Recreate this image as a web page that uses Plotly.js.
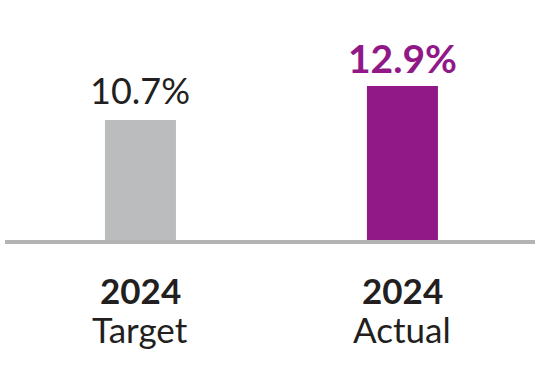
<!DOCTYPE html>
<html>
<head>
<meta charset="utf-8">
<script src="https://cdn.plot.ly/plotly-3.0.1.min.js"></script>
<style>html,body{margin:0;padding:0;background:#fff;}#chart{width:540px;height:370px;}</style>
</head>
<body>
<div id="chart"></div>
<script>
const categories = ["Target", "Actual"];
const years = ["2024", "2024"];
const values = [10.7, 12.9];
const valueLabels = ["10.7%", "12.9%"];
const barColors = ["#bbbcbe", "#911887"];
const labelColors = ["#231f20", "#911887"];
const labelBold = [false, true];

const FONT = "Lato, 'Open Sans', sans-serif";

const trace = {
  type: "bar",
  x: categories,
  y: values,
  width: 0.271,
  marker: { color: barColors, line: { width: 0 } },
  hoverinfo: "none"
};

const annotations = [];
categories.forEach((c, i) => {
  annotations.push({
    x: c, y: values[i], xref: "x", yref: "y",
    text: labelBold[i] ? "<b>" + valueLabels[i] + "</b>" : valueLabels[i],
    showarrow: false, yanchor: "bottom", yshift: labelBold[i] ? 3 : 6,
    font: { family: FONT, size: labelBold[i] ? 39 : 36, color: labelColors[i] }
  });
  annotations.push({
    x: c, y: 0, xref: "x", yref: "paper",
    text: "<b>" + years[i] + "</b>",
    showarrow: false, yanchor: "top", yshift: -30.5, height: 30, valign: "middle",
    font: { family: FONT, size: 35, color: "#231f20" }
  });
  annotations.push({
    x: c, y: 0, xref: "x", yref: "paper",
    text: c,
    showarrow: false, yanchor: "top", yshift: -63.5, height: 42, valign: "middle",
    font: { family: FONT, size: 35, color: "#231f20" }
  });
});

const layout = {
  width: 540, height: 370,
  margin: { l: 5, r: 5, t: 40, b: 128 },
  paper_bgcolor: "#ffffff",
  plot_bgcolor: "#ffffff",
  showlegend: false,
  xaxis: {
    range: [-0.517, 1.506],
    showticklabels: false, showgrid: false, zeroline: false,
    showline: false, ticks: ""
  },
  yaxis: {
    range: [2.806, 15.876],
    showticklabels: false, showgrid: false, zeroline: false,
    showline: false, ticks: ""
  },
  shapes: [{
    type: "line", xref: "paper", yref: "paper",
    x0: 0, x1: 1, y0: 0, y1: 0,
    line: { color: "#b3b3b3", width: 4 }
  }],
  annotations: annotations
};

Plotly.newPlot("chart", [trace], layout, { displayModeBar: false, staticPlot: true });
</script>
</body>
</html>
